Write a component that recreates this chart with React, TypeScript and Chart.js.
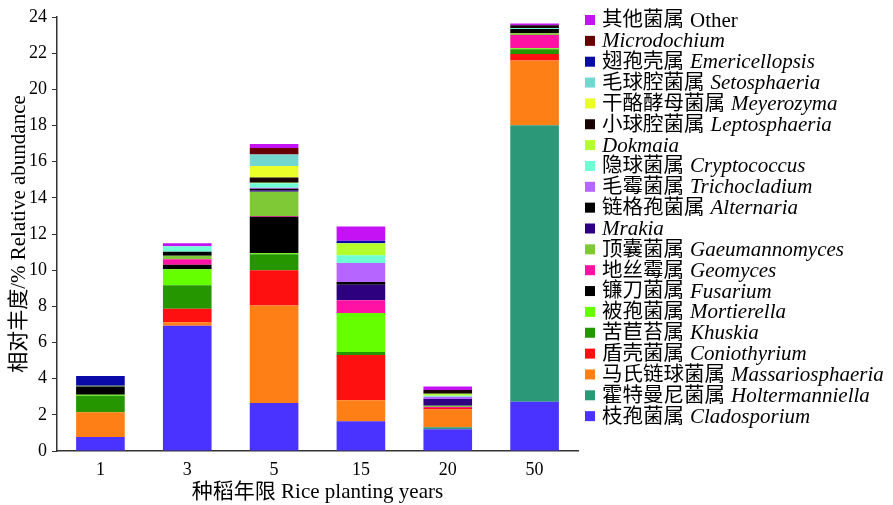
import React, { useEffect, useRef } from "react";
import { Chart, registerables } from "chart.js";

Chart.register(...registerables);

const years = ["1", "3", "5", "15", "20", "50"];

// Stack order bottom -> top
const genusCN = [
  "枝孢菌属", "霍特曼尼菌属", "马氏链球菌属", "盾壳菌属", "苦苣苔属", "被孢菌属", "镰刀菌属",
  "地丝霉属", "顶囊菌属", "", "链格孢菌属", "毛霉菌属", "隐球菌属", "", "小球腔菌属",
  "干酪酵母菌属", "毛球腔菌属", "翅孢壳属", "", "其他菌属",
];
const genusLatin = [
  "Cladosporium", "Holtermanniella", "Massariosphaeria", "Coniothyrium", "Khuskia", "Mortierella",
  "Fusarium", "Geomyces", "Gaeumannomyces", "Mrakia", "Alternaria", "Trichocladium", "Cryptococcus",
  "Dokmaia", "Leptosphaeria", "Meyerozyma", "Setosphaeria", "Emericellopsis", "Microdochium", "Other",
];
const genusColors = [
  "#4b33ff", "#2b9978", "#ff7f17", "#ff1010", "#269600", "#66ff00", "#000000",
  "#ff12a4", "#7fc936", "#2d0080", "#000000", "#b666ff", "#6fffd4", "#b4ff2e", "#180404",
  "#eaff2a", "#73d6cf", "#0a0aa8", "#660000", "#c412f5",
];

const cladosporium = [0.78, 6.93, 2.65, 1.64, 1.2, 2.73];
const holtermanniella = [0, 0, 0, 0, 0.11, 15.28];
const massariosphaeria = [1.36, 0.19, 5.39, 1.16, 0.98, 3.58];
const coniothyrium = [0, 0.75, 1.95, 2.51, 0.09, 0.37];
const khuskia = [0.92, 1.29, 0.89, 0.17, 0, 0.26];
const mortierella = [0.05, 0.89, 0.05, 2.15, 0, 0.05];
const fusarium = [0.45, 0.25, 2.02, 0, 0, 0];
const geomyces = [0, 0.3, 0.05, 0.7, 0.06, 0.74];
const gaeumannomyces = [0.05, 0.2, 1.34, 0, 0.06, 0.09];
const mrakia = [0, 0, 0.08, 0.87, 0.37, 0];
const alternaria = [0, 0.22, 0.08, 0.15, 0, 0.24];
const trichocladium = [0, 0, 0.06, 1.05, 0.13, 0];
const cryptococcus = [0, 0.3, 0.24, 0.42, 0.05, 0.05];
const dokmaia = [0, 0, 0.04, 0.67, 0.12, 0];
const leptosphaeria = [0, 0, 0.28, 0, 0.2, 0.15];
const meyerozyma = [0, 0, 0.64, 0, 0, 0];
const setosphaeria = [0, 0, 0.63, 0, 0, 0];
const emericellopsis = [0.54, 0, 0, 0.14, 0, 0];
const microdochium = [0, 0, 0.37, 0, 0, 0];
const other = [0, 0.17, 0.22, 0.78, 0.19, 0.1];

const seriesValues = [
  cladosporium, holtermanniella, massariosphaeria, coniothyrium, khuskia, mortierella, fusarium,
  geomyces, gaeumannomyces, mrakia, alternaria, trichocladium, cryptococcus, dokmaia, leptosphaeria,
  meyerozyma, setosphaeria, emericellopsis, microdochium, other,
];

const yTicks = [0, 2, 4, 6, 8, 10, 12, 14, 16, 18, 20, 22, 24];

const FAMILY = "'Liberation Serif', 'Noto Sans CJK SC', serif";

const legendPlugin = {
  id: "mixedLegend",
  afterDraw(chart: any) {
    const ctx = chart.ctx as CanvasRenderingContext2D;
    const n = genusLatin.length;
    const x0 = 585;
    const y0 = 20;
    const step = 20.85;
    ctx.save();
    ctx.textBaseline = "middle";
    ctx.textAlign = "left";
    for (let k = 0; k < n; k++) {
      const i = n - 1 - k;
      const y = y0 + k * step;
      ctx.fillStyle = genusColors[i];
      ctx.fillRect(x0, y - 5, 10, 10);
      let x = x0 + 17;
      ctx.fillStyle = "#000";
      if (genusCN[i]) {
        ctx.font = `20.5px ${FAMILY}`;
        ctx.fillText(genusCN[i], x, y + 1);
        x += ctx.measureText(genusCN[i]).width + 6;
      }
      ctx.font = genusLatin[i] === "Other" ? `21px ${FAMILY}` : `italic 21px ${FAMILY}`;
      ctx.fillText(genusLatin[i], x, y + 1);
    }
    ctx.restore();
  },
};

export default function App() {
  const ref = useRef<HTMLCanvasElement | null>(null);
  useEffect(() => {
    if (!ref.current) return;
    const chart = new Chart(ref.current, {
      type: "bar",
      data: {
        labels: years,
        datasets: seriesValues.map((vals, i) => ({
          label: genusLatin[i],
          data: vals,
          backgroundColor: genusColors[i],
          borderWidth: 0,
          barPercentage: 0.56,
          categoryPercentage: 1,
        })),
      },
      options: {
        animation: false,
        responsive: false,
        maintainAspectRatio: false,
        layout: { padding: { left: 0, right: 315, top: 17, bottom: 0 } },
        plugins: { legend: { display: false }, tooltip: { enabled: false } },
        scales: {
          x: {
            stacked: true,
            grid: { display: false },
            border: { display: true, color: "#333", width: 1.5 },
            ticks: { color: "#000", font: { family: FAMILY, size: 18 }, padding: 0 },
            title: {
              display: true,
              text: "种稻年限 Rice planting years",
              color: "#000",
              font: { family: FAMILY, size: 21 },
              padding: { top: 0, bottom: 0 },
            },
            afterFit: (s: any) => { s.height = 54; },
          },
          y: {
            stacked: true,
            min: 0,
            max: 24,
            afterBuildTicks: (s: any) => { s.ticks = yTicks.map((v) => ({ value: v })); },
            grid: { drawOnChartArea: false, drawTicks: true, tickLength: 5, color: "#333" },
            border: { display: true, color: "#333", width: 1.5 },
            ticks: { color: "#000", font: { family: FAMILY, size: 18 }, padding: 5 },
            title: {
              display: true,
              text: "相对丰度/% Relative abundance",
              color: "#000",
              font: { family: FAMILY, size: 21 },
              padding: { top: 7, bottom: 4 },
            },
            afterFit: (s: any) => { s.width = 57; },
          },
        },
      },
      plugins: [legendPlugin],
    });
    return () => chart.destroy();
  }, []);
  return (
    <div style={{ position: "fixed", left: 0, top: 0, width: 893, height: 505, background: "#fff" }}>
      <canvas ref={ref} width={893} height={505} style={{ width: 893, height: 505, display: "block" }} />
    </div>
  );
}
